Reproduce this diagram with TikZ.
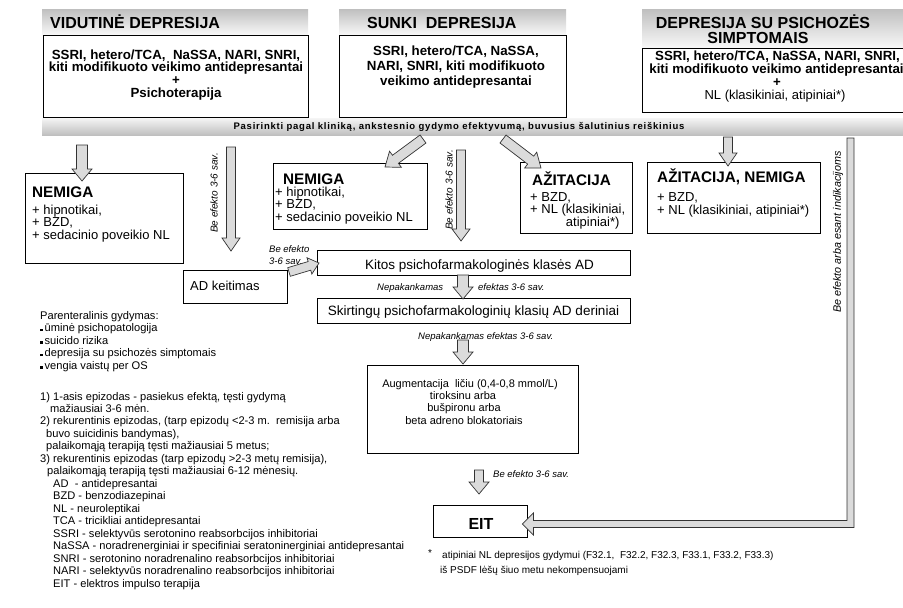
\documentclass[tikz,border=0pt]{standalone}
\usepackage{fontspec}
\setmainfont{Liberation Sans}
\newfontfamily\barfont[LetterSpace=8]{Liberation Sans}
\usetikzlibrary{calc,fit}
\tikzset{
  box/.style={draw=black, line width=0.8pt, fill=white, inner sep=0pt},
  hdr/.style={top color=gray!50, bottom color=gray!5, draw=none, inner sep=0pt},
  barst/.style={top color=gray!8, bottom color=gray!50, draw=none, inner sep=0pt},
  blockarrow/.style={fill=gray!28, draw=gray!40!black, line width=0.7pt, line join=miter},
  hdrf/.style={font=\fontsize{16}{16}\selectfont\bfseries, inner sep=0pt},
  bt/.style={font=\fontsize{13.3}{13}\selectfont\bfseries, inner sep=0pt},
  ttl/.style={font=\fontsize{15.3}{16}\selectfont\bfseries, inner sep=0pt},
  reg/.style={font=\fontsize{13}{13}\selectfont, inner sep=0pt},
  regb/.style={font=\fontsize{13.5}{13}\selectfont, inner sep=0pt},
  lbl/.style={font=\fontsize{9.5}{10}\selectfont\itshape, inner sep=0pt},
  lblv/.style={font=\fontsize{10}{10}\selectfont\itshape, inner sep=0pt, rotate=90},
  sm/.style={font=\fontsize{11.1}{12}\selectfont, inner sep=0pt, anchor=base west},
  aug/.style={font=\fontsize{11}{12}\selectfont, inner sep=0pt, anchor=base},
  fn/.style={font=\fontsize{10}{12}\selectfont, inner sep=0pt, anchor=base west},
  barf/.style={font=\fontsize{9.5}{10}\selectfont\barfont\bfseries, inner sep=0pt},
}
% block arrow: start, end, half shaft, half head, head length
\newcommand\blk[5]{%
  \coordinate (bkh) at ($(#2)!#5!(#1)$);
  \filldraw[blockarrow] ($(#1)!#3!90:(#2)$) -- ($(bkh)!#3!90:(#2)$) -- ($(bkh)!#4!90:(#2)$) -- (#2)
    -- ($(bkh)!#4!-90:(#2)$) -- ($(bkh)!#3!-90:(#2)$) -- ($(#1)!#3!-90:(#2)$) -- cycle;}
\begin{document}
\begin{tikzpicture}[x=1pt,y=-1pt]
\useasboundingbox (0,0) rectangle (903,608);

% ---------- top columns ----------
\node[hdr, fit={(42,9) (308,35)}] (h1) {};
\node[box, fit={(43,35) (308,117)}] (b1) {};
\node[hdr, fit={(339,9) (566,35)}] (h2) {};
\node[box, fit={(339,35) (566,117)}] (b2) {};
\node[hdr, fit={(642,9) (918,48)}] (h3) {};
\node[box, fit={(642,48) (918,112)}] (b3) {};
\node[barst, fit={(42,118) (918,135)}] (bar) {};

\node[hdrf, anchor=base west] (h1t) at (50,28) {VIDUTINĖ DEPRESIJA};
\node[hdrf, anchor=base west] (h2t) at (367,28) {SUNKI\ \ DEPRESIJA};
\node[hdrf, anchor=base] (h3ta) at (763,28) {DEPRESIJA SU PSICHOZĖS};
\node[hdrf, anchor=base] (h3tb) at (758,43) {SIMPTOMAIS};

\foreach \t [count=\i from 0] in {{SSRI, hetero/TCA,\ \ NaSSA, NARI, SNRI,},{kiti modifikuoto veikimo antidepresantai},{+},{Psichoterapija}}
  \node[bt, anchor=base] (bla\i) at (176,59+12.7*\i) {\t};
\foreach \t [count=\i from 0] in {{SSRI, hetero/TCA, NaSSA,},{NARI, SNRI, kiti modifikuoto},{veikimo antidepresantai}}
  \node[bt, anchor=base] (blb\i) at (456,55+15*\i) {\t};
\node[bt, anchor=base] (blc0) at (777.5,60.5) {SSRI, hetero/TCA, NaSSA, NARI, SNRI,};
\node[bt, anchor=base] (blc1) at (776.5,73) {kiti modifikuoto veikimo antidepresantai};
\node[bt, anchor=base] (blc2) at (777,86.5) {+};
\node[reg, anchor=base] (blc3) at (775,99) {NL (klasikiniai, atipiniai*)};

\node[barf, anchor=base] (bart) at (459,129) {Pasirinkti pagal kliniką, ankstesnio gydymo efektyvumą, buvusius šalutinius reiškinius};

% ---------- second row boxes ----------
\node[box, fit={(25,173) (183,263)}] (nem1) {};
\node[ttl, anchor=base west] (nem1t) at (32,197) {NEMIGA};
\foreach \t [count=\i from 0] in {{+ hipnotikai,},{+ BZD,},{+ sedacinio poveikio NL}}
  \node[reg, anchor=base west] (nem1l\i) at (32,214+12.5*\i) {\t};

\node[box, fit={(273,163) (427,229)}] (nem2) {};
\node[ttl, anchor=base west] (nem2t) at (283,184) {NEMIGA};
\foreach \t [count=\i from 0] in {{+ hipnotikai,},{+ BZD,},{+ sedacinio poveikio NL}}
  \node[reg, anchor=base west] (nem2l\i) at (275,196+12.5*\i) {\t};

\node[box, fit={(520,162) (632,233)}] (az) {};
\node[ttl, anchor=base west] (azt) at (532,185) {AŽITACIJA};
\node[reg, anchor=base west] (azl0) at (530,201) {+ BZD,};
\node[reg, anchor=base west] (azl1) at (530,213.5) {+ NL (klasikiniai,};
\node[reg, anchor=base west] (azl2) at (530,226) {\phantom{+ NL (}atipiniai*)};

\node[box, fit={(647,162) (820,233)}] (azn) {};
\node[ttl, anchor=base west] (aznt) at (657,182) {AŽITACIJA, NEMIGA};
\node[reg, anchor=base west] (aznl0) at (657,201) {+ BZD,};
\node[reg, anchor=base west] (aznl1) at (657,214) {+ NL (klasikiniai, atipiniai*)};

\node[box, fit={(183,270) (287,303)}] (adk) {};
\node[reg, anchor=base west] (adkt) at (190,290) {AD keitimas};

\node[box, fit={(317,250) (630,275)}] (kit) {};
\node[regb, anchor=base] (kitt) at (479.5,269) {Kitos psichofarmakologinės klasės AD};

\node[box, fit={(317,298) (630,323)}] (skr) {};
\node[regb, anchor=base] (skrt) at (473.5,315) {Skirtingų psichofarmakologinių klasių AD deriniai};

\node[box, fit={(367,365) (578,453)}] (aug) {};
\node[aug] (augl0) at (470,387) {Augmentacija\ \ ličiu (0,4-0,8 mmol/L)};
\node[aug] (augl1) at (463,399.3) {tiroksinu arba};
\node[aug] (augl2) at (464,411.6) {bušpironu arba};
\node[aug] (augl3) at (464,424) {beta adreno blokatoriais};

\node[box, fit={(433,505) (527,537)}] (eit) {};
\node[font=\fontsize{16}{16}\selectfont\bfseries, inner sep=0pt, anchor=base] (eitt) at (481,529) {EIT};

% ---------- labels ----------
\node[lblv] (lv1) at (214,193) {Be efekto 3-6 sav.};
\node[lblv] (lv2) at (449,190) {Be efekto 3-6 sav.};
\node[font=\fontsize{10.8}{11}\selectfont\itshape, inner sep=0pt, rotate=90] (lv3) at (838,232) {Be efekto arba esant indikacijoms};
\node[lbl, anchor=base west] (la1) at (269,252.5) {Be efekto};
\node[lbl, anchor=base west] (la2) at (269,264.5) {3-6 sav.};
\node[lbl, anchor=base west] (la3) at (377,290) {Nepakankamas};
\node[lbl, anchor=base west] (la4) at (478,290) {efektas 3-6 sav.};
\node[lbl, anchor=base west] (la5) at (418,339) {Nepakankamas efektas 3-6 sav.};
\node[lbl, anchor=base west] (la6) at (493,477) {Be efekto 3-6 sav.};

% ---------- block arrows ----------
\coordinate (a1s) at (82,145);   \coordinate (a1e) at (82,181);
\coordinate (a2s) at (231,147);  \coordinate (a2e) at (231,251);
\coordinate (a3s) at (423,139);  \coordinate (a3e) at (385,167);
\coordinate (a4s) at (461,150);  \coordinate (a4e) at (461,241);
\coordinate (a5s) at (503,139);  \coordinate (a5e) at (541,168);
\coordinate (a6s) at (728,137);  \coordinate (a6e) at (728,166);
\coordinate (a7s) at (289,272);  \coordinate (a7e) at (319,263);
\coordinate (a8s) at (463,275);  \coordinate (a8e) at (463,299);
\coordinate (a9s) at (463,340);  \coordinate (a9e) at (463,364);
\coordinate (a10s) at (479,470); \coordinate (a10e) at (479,494);
\blk{a1s}{a1e}{5.5pt}{10pt}{12pt}
\blk{a2s}{a2e}{4.5pt}{9pt}{13pt}
\blk{a3s}{a3e}{5pt}{10pt}{13pt}
\blk{a4s}{a4e}{4.5pt}{9pt}{12pt}
\blk{a5s}{a5e}{5pt}{10pt}{13pt}
\blk{a6s}{a6e}{4.5pt}{9pt}{13pt}
\blk{a7s}{a7e}{4.5pt}{8.5pt}{10pt}
\blk{a8s}{a8e}{5.5pt}{10pt}{12pt}
\blk{a9s}{a9e}{5.5pt}{10pt}{12pt}
\blk{a10s}{a10e}{4.5pt}{10pt}{12pt}

% long arrow to EIT
\coordinate (rtop) at (850.5,138);
\coordinate (eittip) at ($(eit.east)+(-5,3)$);
\coordinate (corner) at (rtop |- eittip);
\filldraw[blockarrow] ($(rtop)+(-3.5,0)$) -- ($(corner)+(-3.5,-3.5)$) -- ($(eittip)+(11,-3.5)$)
  -- ($(eittip)+(11,-11)$) -- (eittip) -- ($(eittip)+(11,11)$) -- ($(eittip)+(11,3.5)$)
  -- ($(corner)+(3.5,3.5)$) -- ($(rtop)+(3.5,0)$) -- cycle;

% ---------- left notes ----------
\node[sm] (p0) at (40,319) {Parenteralinis gydymas:};
\foreach \t [count=\i from 1] in {{ūminė psichopatologija},{suicido rizika},{depresija su psichozės simptomais},{vengia vaistų per OS}}
  \node[sm] (p\i) at (40,319+12.5*\i) {\rule[0.3pt]{2.3pt}{2.3pt}\hspace{2.2pt}\t};

\node[sm] (n1) at (40,400) {1) 1-asis epizodas - pasiekus efektą, tęsti gydymą};
\node[sm] (n2) at (50,412.4) {mažiausiai 3-6 mėn.};
\node[sm] (n3) at (40,424.8) {2) rekurentinis epizodas, (tarp epizodų <2-3 m.\ \ remisija arba};
\node[sm] (n4) at (46,437.2) {buvo suicidinis bandymas),};
\node[sm] (n5) at (46,449.6) {palaikomąją terapiją tęsti mažiausiai 5 metus;};
\node[sm] (n6) at (40,462) {3) rekurentinis epizodas (tarp epizodų >2-3 metų remisija),};
\node[sm] (n7) at (47,474.4) {palaikomąją terapiją tęsti mažiausiai 6-12 mėnesių.};

\foreach \t [count=\i from 0] in {{AD\ \ - antidepresantai},{BZD - benzodiazepinai},{NL - neuroleptikai},{TCA - tricikliai antidepresantai},{SSRI - selektyvūs serotonino reabsorbcijos inhibitoriai},{NaSSA - noradrenerginiai ir specifiniai seratoninerginiai antidepresantai},{SNRI - serotonino noradrenalino reabsorbcijos inhibitoriai},{NARI - selektyvūs noradrenalino reabsorbcijos inhibitoriai},{EIT - elektros impulso terapija}}
  \node[sm] (ab\i) at (53,487+12.5*\i) {\t};

% ---------- footnote ----------
\node[fn] (fa) at (428,556) {*};
\node[fn] (fb) at (442,558) {atipiniai NL depresijos gydymui (F32.1,\ \ F32.2, F32.3, F33.1, F33.2, F33.3)};
\node[fn] (fc) at (440,573) {iš PSDF lėšų šiuo metu nekompensuojami};

\end{tikzpicture}
\end{document}
